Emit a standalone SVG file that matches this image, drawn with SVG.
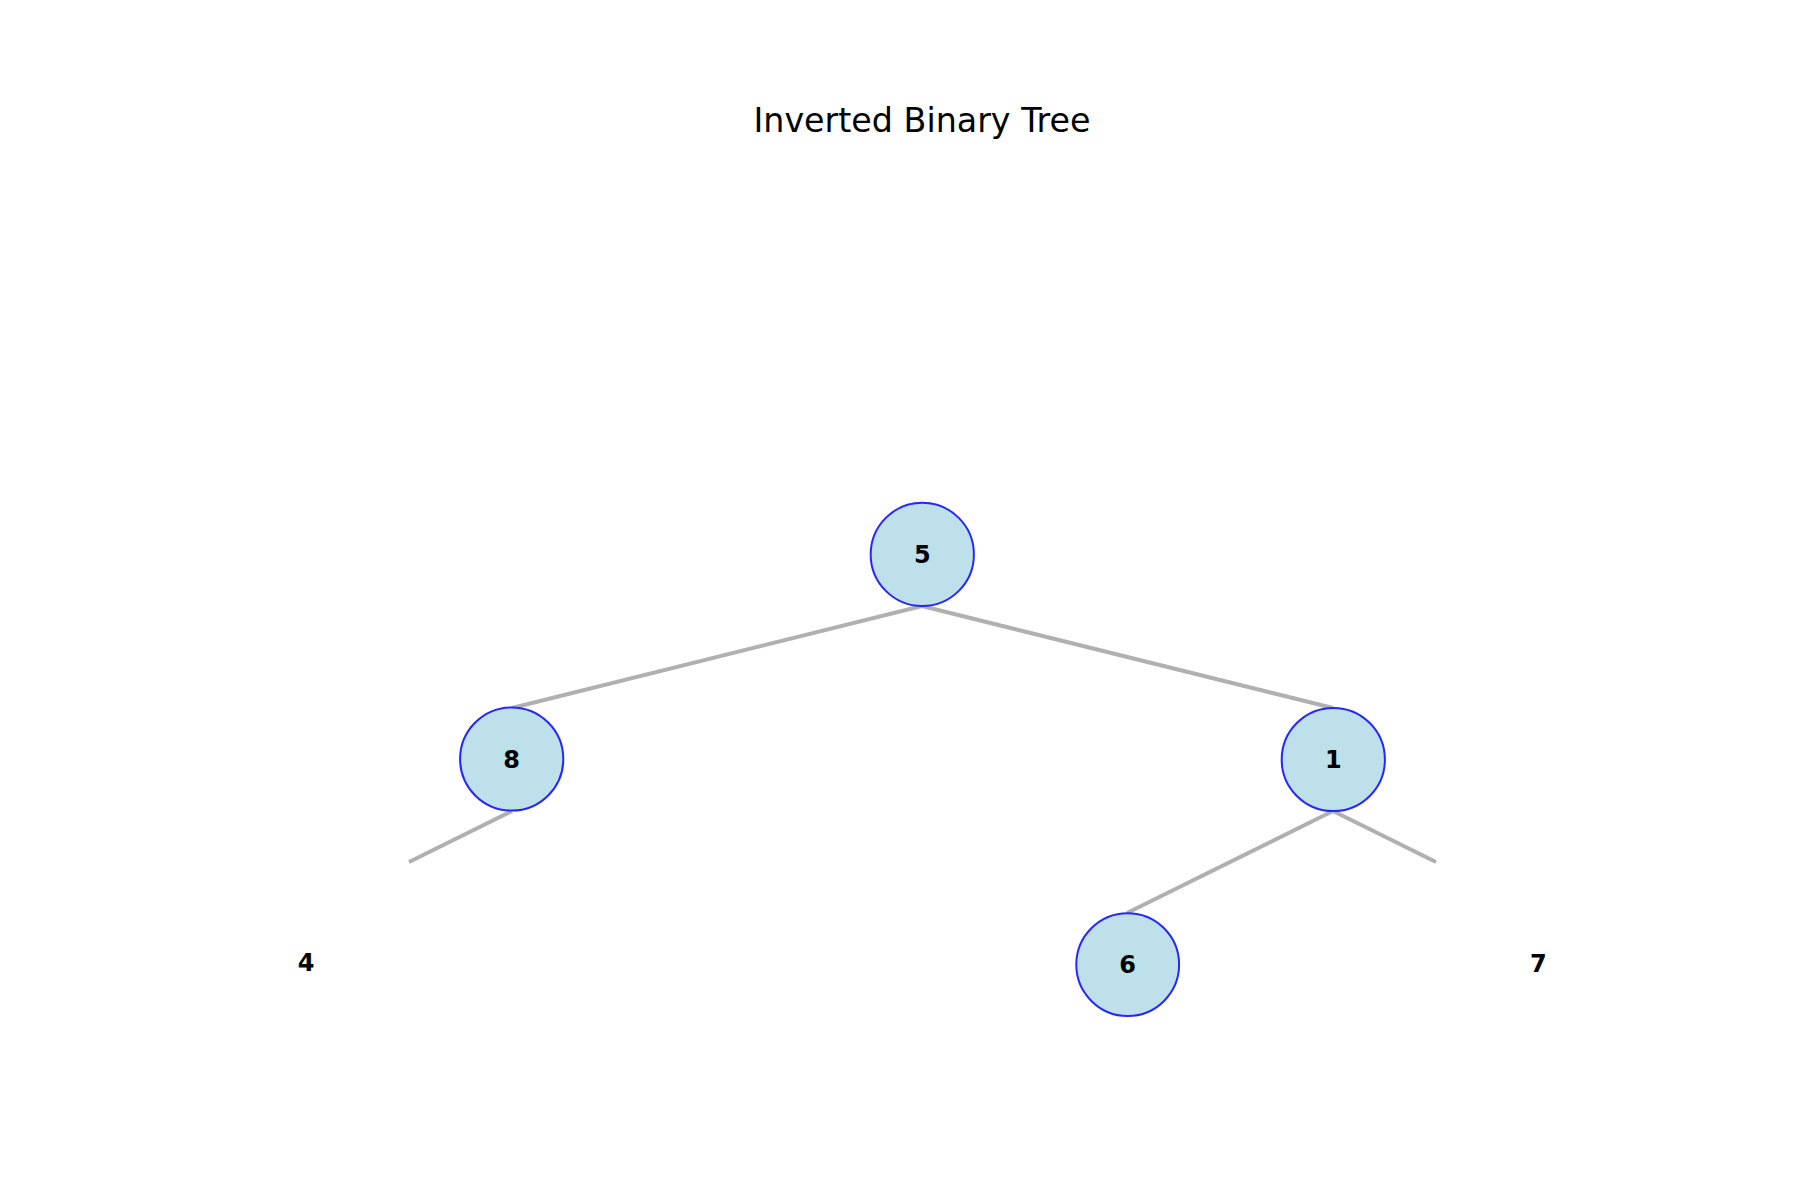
<svg xmlns="http://www.w3.org/2000/svg" width="1800" height="1200" viewBox="0 0 1800 1200">
<style>
.edge{stroke:#b0b0b0;stroke-width:4;fill:none;stroke-linecap:butt}
.node{fill:#bde0eb;stroke:#2626ff;stroke-width:2}
.lbl{font-family:"DejaVu Sans",sans-serif;font-weight:bold;font-size:24px;fill:#000;text-anchor:middle}
.title{font-family:"DejaVu Sans",sans-serif;font-size:33.3px;fill:#000;text-anchor:middle}
</style>
<rect width="1800" height="1200" fill="#fff"/>
<text class="title" x="922" y="131.5">Inverted Binary Tree</text>
<g id="connectors">
<line class="edge" x1="922" y1="606" x2="512" y2="708"/>
<line class="edge" x1="922" y1="606" x2="1333" y2="708"/>
<line class="edge" x1="512" y1="811" x2="409" y2="862"/>
<line class="edge" x1="1333" y1="811" x2="1127" y2="913"/>
<line class="edge" x1="1333" y1="811" x2="1436" y2="862"/>
</g>
<g id="node-5"><circle class="node" cx="922.3" cy="554.4" r="51.6"/><text class="lbl" x="922.3" y="563">5</text></g>
<g id="node-8"><circle class="node" cx="511.7" cy="759" r="51.6"/><text class="lbl" x="511.7" y="767.7">8</text></g>
<g id="node-1"><circle class="node" cx="1333.3" cy="759.5" r="51.6"/><text class="lbl" x="1333.3" y="768">1</text></g>
<g id="node-6"><circle class="node" cx="1127.7" cy="964.6" r="51.4"/><text class="lbl" x="1127.7" y="973.3">6</text></g>
<g id="node-4"><text class="lbl" x="306" y="971">4</text></g>
<g id="node-7"><text class="lbl" x="1538.3" y="971.7">7</text></g>
</svg>
